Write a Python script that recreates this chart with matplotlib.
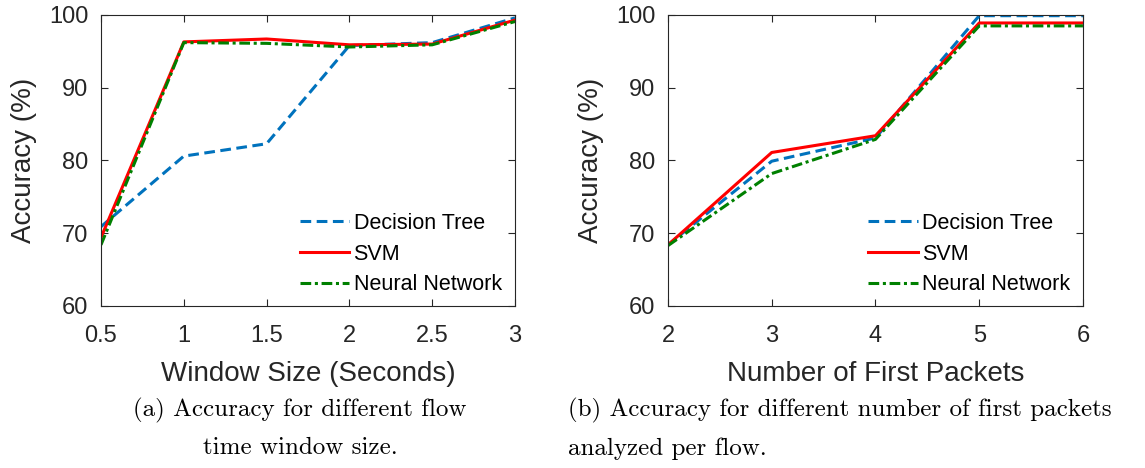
import numpy as np
import matplotlib.pyplot as plt

# Panel (a): window size
window_size = [0.5, 1, 1.5, 2, 2.5, 3]
dt_window = [70.9, 80.6, 82.3, 95.8, 96.2, 99.6]
svm_window = [69.4, 96.3, 96.7, 95.9, 96.0, 99.3]
nn_window = [68.4, 96.2, 96.1, 95.6, 95.9, 99.1]

# Panel (b): number of first packets
num_packets = [2, 3, 4, 5, 6]
dt_packets = [68.4, 79.9, 83.1, 99.9, 99.9]
svm_packets = [68.4, 81.1, 83.4, 98.9, 98.9]
nn_packets = [68.3, 78.2, 82.9, 98.5, 98.5]

SANS = ['Liberation Sans', 'DejaVu Sans']
DARK = '#262626'
C_DT = '#0072BD'
C_SVM = '#FF0000'
C_NN = '#008000'

fig = plt.figure(figsize=(11.45, 4.68), dpi=100)
ax1 = fig.add_axes([0.0882, 0.3462, 0.3616, 0.6218])
ax2 = fig.add_axes([0.5834, 0.3462, 0.3624, 0.6218])


def style(ax, x, dt, svm, nn, xlabel, xticks, xlabels, leg_x):
    ax.plot(x, dt, color=C_DT, ls=(0, (3.5, 1.8)), lw=2.2, label='Decision Tree')
    ax.plot(x, svm, color=C_SVM, ls='-', lw=2.2, label='SVM')
    ax.plot(x, nn, color=C_NN, ls=(0, (3.5, 1.2, 1, 1.2)), lw=2.2, label='Neural Network')
    ax.set_xlim(x[0], x[-1])
    ax.set_ylim(60, 100)
    ax.set_yticks([60, 70, 80, 90, 100])
    ax.set_xticks(xticks)
    ax.set_xticklabels(xlabels)
    ax.tick_params(direction='in', top=True, right=True, length=5, width=0.8,
                   colors=DARK, labelsize=17)
    ax.tick_params(axis='x', pad=14)
    ax.tick_params(axis='y', pad=9)
    for lab in ax.get_xticklabels() + ax.get_yticklabels():
        lab.set_family(SANS)
    for s in ax.spines.values():
        s.set_color(DARK)
        s.set_linewidth(0.8)
    ax.set_xlabel(xlabel, fontsize=20, family=SANS, color=DARK, labelpad=10)
    ax.set_ylabel('Accuracy (%)', fontsize=20, family=SANS, color=DARK, labelpad=9)
    ax.legend(loc='upper left', bbox_to_anchor=(leg_x, 0.32), frameon=False,
              prop={'family': SANS, 'size': 15.5}, handlelength=2.3,
              handletextpad=0.2, borderpad=0, borderaxespad=0, labelspacing=0.45)


style(ax1, window_size, dt_window, svm_window, nn_window, 'Window Size (Seconds)',
      window_size, ['0.5', '1', '1.5', '2', '2.5', '3'], 0.48)
style(ax2, num_packets, dt_packets, svm_packets, nn_packets, 'Number of First Packets',
      num_packets, ['2', '3', '4', '5', '6'], 0.483)

cap = {'family': 'cmr10', 'fontsize': 18, 'color': 'black'}
fig.text(0.262, 0.122, '(a) Accuracy for different flow', ha='center', va='center', **cap)
fig.text(0.262, 0.042, 'time window size.', ha='center', va='center', **cap)
fig.text(0.496, 0.122, '(b) Accuracy for different number of first packets', ha='left', va='center', **cap)
fig.text(0.496, 0.042, 'analyzed per flow.', ha='left', va='center', **cap)

fig.savefig('out.png', dpi=100)
